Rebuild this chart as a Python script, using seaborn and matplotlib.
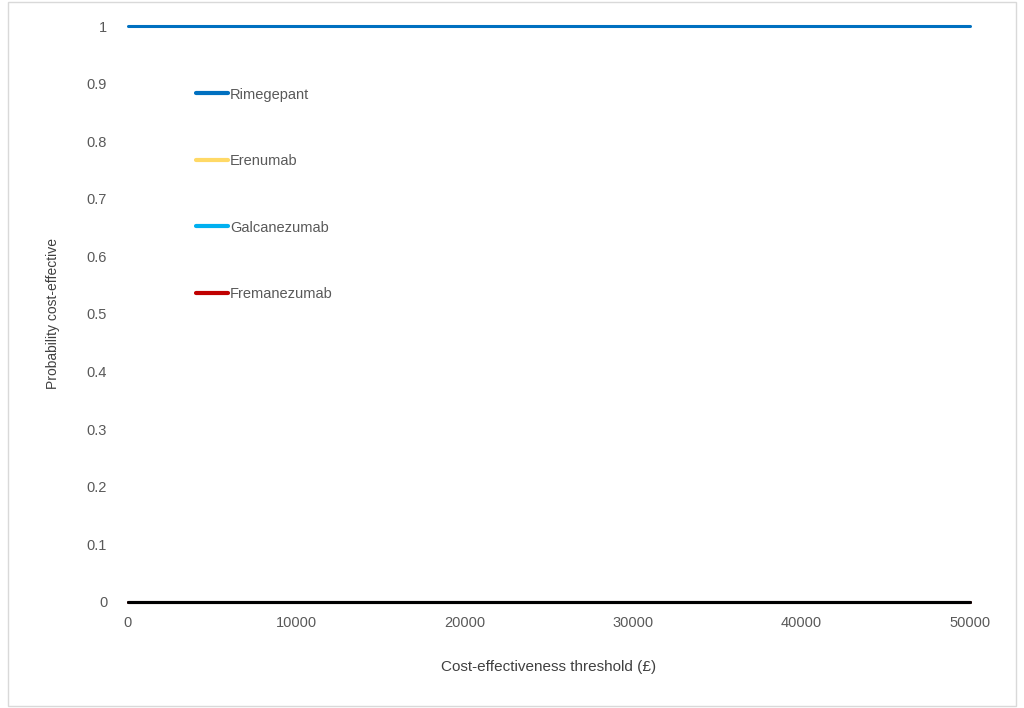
import numpy as np
import pandas as pd
import matplotlib
matplotlib.use("Agg")
import matplotlib.pyplot as plt
import seaborn as sns

# data
thresholds = [0, 10000, 20000, 30000, 40000, 50000]
rimegepant = [1, 1, 1, 1, 1, 1]
erenumab = [0, 0, 0, 0, 0, 0]
galcanezumab = [0, 0, 0, 0, 0, 0]
fremanezumab = [0, 0, 0, 0, 0, 0]
comparator = [0, 0, 0, 0, 0, 0]

drugs = ["Rimegepant", "Erenumab", "Galcanezumab", "Fremanezumab"]
colors = {"Rimegepant": "#0070C0", "Erenumab": "#FFD966",
          "Galcanezumab": "#00B0F0", "Fremanezumab": "#C00000"}

df = pd.DataFrame({"threshold": thresholds * 4,
                   "prob": rimegepant + erenumab + galcanezumab + fremanezumab,
                   "drug": np.repeat(drugs, len(thresholds))})

sns.set_style("white")
plt.rcParams["font.family"] = ["Liberation Sans", "DejaVu Sans"]

fig = plt.figure(figsize=(10.24, 7.08), dpi=100)
ax = fig.add_axes([0.125, 0.150, 0.822, 0.813])

sns.lineplot(data=df, x="threshold", y="prob", hue="drug", hue_order=drugs,
             palette=colors, linewidth=2.2, ax=ax, clip_on=False, legend=True, zorder=3)
# black series drawn last, not in legend
sns.lineplot(x=thresholds, y=comparator, color="black", linewidth=2.2,
             ax=ax, clip_on=False, legend=False, zorder=4)

ax.set_xlim(0, 50000)
ax.set_ylim(0, 1)
ax.set_xticks(thresholds)
ax.set_xticklabels([str(t) for t in thresholds])
yt = np.round(np.arange(0, 1.01, 0.1), 1)
ax.set_yticks(yt)
ax.set_yticklabels(["0", "0.1", "0.2", "0.3", "0.4", "0.5", "0.6", "0.7", "0.8", "0.9", "1"])
ax.tick_params(axis="both", colors="#595959", labelsize=10.5, length=0)
ax.tick_params(axis="y", pad=15)
ax.tick_params(axis="x", pad=10)
for s in ["top", "right", "left"]:
    ax.spines[s].set_visible(False)
ax.spines["bottom"].set_color("#D9D9D9")
ax.spines["bottom"].set_zorder(1)

ax.set_xlabel("Cost-effectiveness threshold (£)", fontsize=11, color="#404040", labelpad=22)
ax.set_ylabel("Probability cost-effective", fontsize=10, color="#404040", labelpad=19)

leg = ax.legend(loc="upper left", bbox_to_anchor=(0.072, 0.906), frameon=False,
                fontsize=10.5, labelspacing=3.6, handlelength=2.2, handletextpad=0.15,
                borderpad=0, labelcolor="#595959")
for h in leg.get_lines():
    h.set_linewidth(3)

# chart area border
fig.patches.append(plt.Rectangle((0.008, 0.003), 0.984, 0.994, transform=fig.transFigure,
                                 fill=False, edgecolor="#D9D9D9", linewidth=1))

plt.savefig("out.png", dpi=100)
